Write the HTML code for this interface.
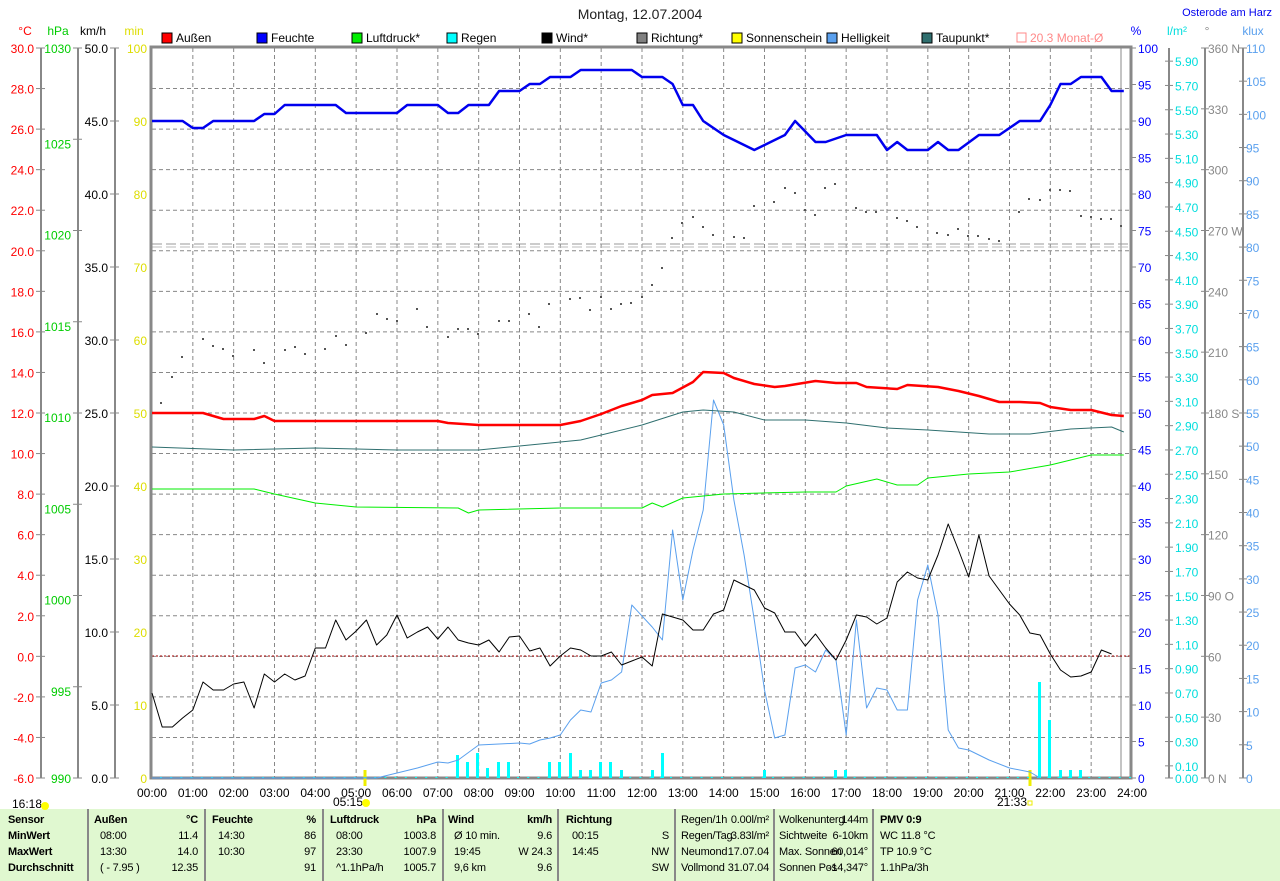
<!DOCTYPE html>
<html><head><meta charset="utf-8"><style>
body{margin:0;background:#fff;width:1280px;height:881px;overflow:hidden;font-family:"Liberation Sans",sans-serif}
svg{position:absolute;left:0;top:0}
text{font-family:"Liberation Sans",sans-serif;font-size:12px}
text.tb{font-size:11px;letter-spacing:-0.2px}
</style></head><body>
<svg id="s" width="1280" height="881" xmlns="http://www.w3.org/2000/svg">
<rect x="0" y="809" width="1280" height="72" fill="#e0f8d0"/>
<text x="640" y="19" text-anchor="middle" style="font-size:14px" fill="#222">Montag, 12.07.2004</text>
<text x="1272" y="16" text-anchor="end" fill="#0000ee" style="font-size:11px">Osterode am Harz</text>
<g id="g"></g>
</svg>
<script>
const g=document.getElementById('g');let h='';
const X=t=>152+t*40.833;
const L=(x1,y1,x2,y2,c,w,d)=>h+=`<line x1="${x1}" y1="${y1}" x2="${x2}" y2="${y2}" stroke="${c}" stroke-width="${w||1}" ${d?`stroke-dasharray="${d}"`:''}/>`;
const T=(x,y,s,c,a,extra)=>h+=`<text x="${x}" y="${y}" fill="${c||'#000'}" text-anchor="${a||'start'}" ${extra||''}>${s}</text>`;
for(let k=1;k<18;k++){let y=48+k*40.556;L(152,y,1131,y,'#888',1,'4,3');}
for(let k=1;k<24;k++){L(X(k),48,X(k),778,'#888',1,'4,3');}
L(1121,48,1121,778,'#888',1);
L(152,244,1131,244,'#999',1,'10,4');L(152,247,1131,247,'#bbb',1,'10,4');
L(152,656,1131,656,'#a00000',1,'2,2');
h+=`<rect x="151" y="47" width="980" height="731" fill="none" stroke="#888" stroke-width="3"/>`;
T(25,35,'°C','#f00','middle');T(58,35,'hPa','#0c0','middle');T(93,35,'km/h','#000','middle');T(134,35,'min','#dd0','middle');
T(1136,35,'%','#00f','middle');T(1177,35,'l/m²','#0dd','middle');T(1207,35,'°','#888','middle');T(1253,35,'klux','#5aa0ee','middle');
[[41,'#f00'],[78,'#0c0'],[115,'#000']].forEach(a=>L(a[0],48,a[0],778,'#888',2));
for(let k=0;k<=18;k++){let y=48+k*40.556;L(36,y,45,y,'#888');T(34,y+5,(30-2*k).toFixed(1),'#f00','end');}
for(let k=0;k<=8;k++){let y=48+k*91.25;L(73,y,82,y,'#888');T(71,y+(k==0||k==8?5:9),1030-5*k,'#0c0','end');}
for(let k=0;k<=10;k++){let y=48+k*73;L(110,y,119,y,'#888');T(108,y+5,(50-5*k).toFixed(1),'#000','end');}
for(let k=0;k<=10;k++){let y=48+k*73;T(147,y+5,100-10*k,'#dd0','end');}
for(let k=0;k<=20;k++){let y=48+k*36.5;L(1131,y,1136,y,'#888');T(1138,y+5,100-5*k,'#00f');}
L(1169,48,1169,778,'#888',2);L(1205,48,1205,778,'#888',2);L(1243,48,1243,778,'#888',2);
for(let v=0;v<=5.95;v+=(v<0.05?0.1:0.2)){let y=778-v*121.5;L(1165,y,1173,y,'#888');T(1175,y+5,v.toFixed(2),'#0dd');}
const dirs={360:'360 N',270:'270 W',180:'180 S',90:'90 O',0:'0 N'};
for(let k=0;k<=12;k++){let v=360-30*k,y=48+k*60.83;L(1201,y,1209,y,'#888');T(1208,y+5,dirs[v]||v,'#888');}
for(let k=0;k<=22;k++){let y=48+k*33.18;L(1239,y,1247,y,'#888');T(1246,y+5,110-5*k,'#5aa0ee');}
const lg=[['Außen','#f00'],['Feuchte','#00f'],['Luftdruck*','#0e0'],['Regen','#0ff'],['Wind*','#000'],['Richtung*','#808080'],['Sonnenschein','#ff0'],['Helligkeit','#5aa0ee'],['Taupunkt*','#2f6f6f']];
lg.forEach((l,i)=>{let x=162+i*95;h+=`<rect x="${x}" y="33" width="10" height="10" fill="${l[1]}" stroke="#000"/>`;T(x+14,42,l[0],'#000');});
h+=`<rect x="1017" y="33" width="9" height="9" fill="none" stroke="#f88"/>`;T(1030,42,'20.3 Monat-Ø','#f88');
for(let k=0;k<=24;k++)T(X(k),797,(k<10?'0':'')+k+':00','#000','middle');
T(12,808,'16:18');h+=`<circle cx="45" cy="806" r="4" fill="#ff0"/>`;
T(333,806,'05:15');h+=`<circle cx="366" cy="803" r="4" fill="#ff0"/>`;
T(997,806,'21:33');h+=`<rect x="1028" y="801" width="4" height="4" fill="none" stroke="#ee0"/>`;
L(365,770,365,786,'#ee0',3);L(1030,770,1030,786,'#ee0',3);
const dots=[[160,402],[171,376],[181,356],[202,338],[212,345],[222,348],[232,355],[253,349],[263,362],[284,349],[294,346],[304,353],[324,348],[335,335],[345,344],[365,332],[376,313],[386,318],[396,320],[416,308],[426,326],[447,336],[457,328],[467,328],[477,333],[498,320],[508,320],[528,313],[538,326],[548,303],[569,298],[579,297],[589,309],[600,296],[610,308],[620,303],[630,302],[641,296],[651,284],[661,267],[671,237],[681,222],[692,216],[702,226],[712,234],[733,236],[743,237],[753,205],[773,201],[784,187],[794,192],[804,209],[814,214],[824,187],[834,183],[855,207],[865,211],[875,211],[896,217],[906,220],[916,226],[936,232],[947,234],[957,228],[967,235],[977,235],[988,238],[998,240],[1018,211],[1028,198],[1039,199],[1049,189],[1059,189],[1069,190],[1080,215],[1090,216],[1100,218],[1110,218],[1120,225]];
dots.forEach(d=>h+=`<rect x="${d[0]}" y="${d[1]}" width="2" height="2" fill="#555"/>`);
const bars=[[457,755],[467,762],[477,753],[487,768],[498,762],[508,762],[549,762],[559,762],[570,753],[580,770],[590,770],[600,762],[610,762],[621,770],[652,770],[662,753],[764,770],[835,770],[845,770],[1039,682],[1049,720],[1060,770],[1070,770],[1080,770]];
bars.forEach(b=>h+=`<rect x="${b[0]-1}" y="${b[1]}" width="3" height="${778-b[1]}" fill="#0ff"/>`);
for(let x=160;x<1131;x+=10.2)h+=`<rect x="${x}" y="777" width="2" height="1" fill="#0ff"/>`;
const P=(a,c,w)=>h+=`<polyline fill="none" stroke="${c}" stroke-width="${w}" stroke-linejoin="round" points="${a.map(p=>X(p[0]).toFixed(1)+','+p[1]).join(' ')}"/>`;
P([[0,778],[5.5,778],[6,773],[6.5,768],[7,762],[7.25,763],[7.5,760],[8,745],[8.5,744],[9,743],[9.25,744],[9.5,740],[9.75,738],[10,735],[10.25,720],[10.5,710],[10.75,712],[11,683],[11.25,680],[11.5,672],[11.75,605],[12.25,627],[12.5,640],[12.75,530],[13,600],[13.25,550],[13.5,510],[13.75,400],[14,425],[14.25,500],[14.5,555],[14.75,620],[15,690],[15.25,738],[15.5,735],[15.75,668],[16,665],[16.25,672],[16.5,650],[16.75,660],[17,735],[17.25,620],[17.5,708],[17.75,688],[18,690],[18.25,710],[18.5,710],[18.75,600],[19,565],[19.25,615],[19.5,730],[19.75,748],[20,750],[20.5,760],[21,768],[21.5,772],[21.75,778]],'#5aa0ee',1);
P([[0,447],[2,450],[4,448],[6,450],[8,450],[9,446],[10.5,440],[12,425],[13,412],[13.5,410],[14.25,412],[15,420],[16,420],[17,423],[18,428],[19,430],[20.5,434],[21.5,434],[22.5,429],[23.5,427],[23.8,432]],'#2f6f6f',1);
P([[0,489],[2.5,489],[3,494],[4,503],[5,507],[7.5,508],[7.75,513],[8,510],[10,508],[12,508],[12.25,503],[12.5,507],[13,498],[14,494],[16,492],[16.75,492],[17,486],[17.75,479],[18.25,485],[18.75,485],[19,478],[20,474],[21,472],[22,465],[23,455],[23.8,455]],'#0e0',1);
const w=[693,727,727,718,710,682,690,690,684,682,708,674,682,674,680,676,648,648,620,640,631,620,645,635,615,638,632,627,639,627,640,643,645,640,652,637,636,651,648,666,656,648,650,656,656,652,665,661,657,666,614,617,620,630,630,614,610,580,585,590,608,613,632,632,646,634,648,660,640,615,617,624,618,582,572,578,580,555,524,550,577,535,576,590,604,615,633,635,654,670,677,676,672,650,654];
P(w.slice(0,96).map((y,i)=>[i*0.25,y]).filter(p=>p[0]<=23.8),'#000',1);
P([[0,413],[1.25,413],[1.75,419],[2.5,419],[2.75,416],[3,421],[7,421],[7.25,423],[8,425],[10,425],[10.5,421],[11,414],[11.5,406],[12,400],[12.25,395],[12.75,393],[13.25,382],[13.5,372],[14,373],[14.25,378],[14.75,384],[15.25,387],[15.5,386],[16.25,381],[16.75,383],[17.25,383],[17.5,387],[18.25,389],[18.5,385],[19.25,387],[19.75,391],[20.25,396],[20.75,402],[21.25,402],[21.75,403],[22,407],[22.5,410],[23,410],[23.5,415],[23.8,416]],'#f00',2.5);
P([[0,121],[0.75,121],[1,128],[1.25,128],[1.5,121],[2.5,121],[2.75,114],[3,114],[3.25,105],[4.5,105],[4.75,113],[6,113],[6.25,105],[7,105],[7.25,113],[7.5,113],[7.75,105],[8.25,105],[8.5,91],[9,91],[9.25,84],[9.5,84],[9.75,77],[10.25,77],[10.5,70],[11.75,70],[12,77],[12.5,77],[12.75,84],[13,105],[13.25,105],[13.5,121],[14,135],[14.75,150],[15.5,135],[15.75,121],[16.25,142],[16.5,142],[17,135],[17.75,135],[18,150],[18.25,142],[18.5,150],[19,150],[19.25,142],[19.5,150],[19.75,150],[20.25,135],[20.75,135],[21.25,121],[21.75,121],[22,105],[22.25,84],[22.5,84],[22.75,77],[23.25,77],[23.5,91],[23.8,91]],'#0000ee',2.5);
[88,205,323,443,558,675,774,873].forEach(x=>L(x,809,x,881,'#888',2));
const R=[823,839,855,871];const B='class="tb" font-weight="bold"';const N='class="tb"';
['Sensor','MinWert','MaxWert','Durchschnitt'].forEach((s,i)=>T(8,R[i],s,'#000','start',B));
const col=(x1,x2,hd,un,rows)=>{T(x1,R[0],hd,'#000','start',B);T(x2,R[0],un,'#000','end',B);rows.forEach((r,i)=>{T(x1+6,R[i+1],r[0],'#000','start',N);T(x2,R[i+1],r[1],'#000','end',N);});};
col(94,198,'Außen','°C',[['08:00','11.4'],['13:30','14.0'],['( - 7.95 )','12.35']]);
col(212,316,'Feuchte','%',[['14:30','86'],['10:30','97'],['','91']]);
col(330,436,'Luftdruck','hPa',[['08:00','1003.8'],['23:30','1007.9'],['^1.1hPa/h','1005.7']]);
col(448,552,'Wind','km/h',[['Ø 10 min.','9.6'],['19:45','W 24.3'],['9,6 km','9.6']]);
col(566,669,'Richtung','',[['00:15','S'],['14:45','NW'],['','SW']]);
[['Regen/1h','0.00l/m²'],['Regen/Tag','3.83l/m²'],['Neumond','17.07.04'],['Vollmond','31.07.04']].forEach((r,i)=>{T(681,R[i],r[0],'#000','start',N);T(769,R[i],r[1],'#000','end',N);});
[['Wolkenunterg','144m'],['Sichtweite','6-10km'],['Max. Sonnen','60,014°'],['Sonnen Pos','-14,347°']].forEach((r,i)=>{T(779,R[i],r[0],'#000','start',N);T(868,R[i],r[1],'#000','end',N);});
T(880,R[0],'PMV 0:9','#000','start',B);T(880,R[1],'WC 11.8 °C','#000','start',N);T(880,R[2],'TP 10.9 °C','#000','start',N);T(880,R[3],'1.1hPa/3h','#000','start',N);
g.innerHTML=h;
</script>
</body></html>
